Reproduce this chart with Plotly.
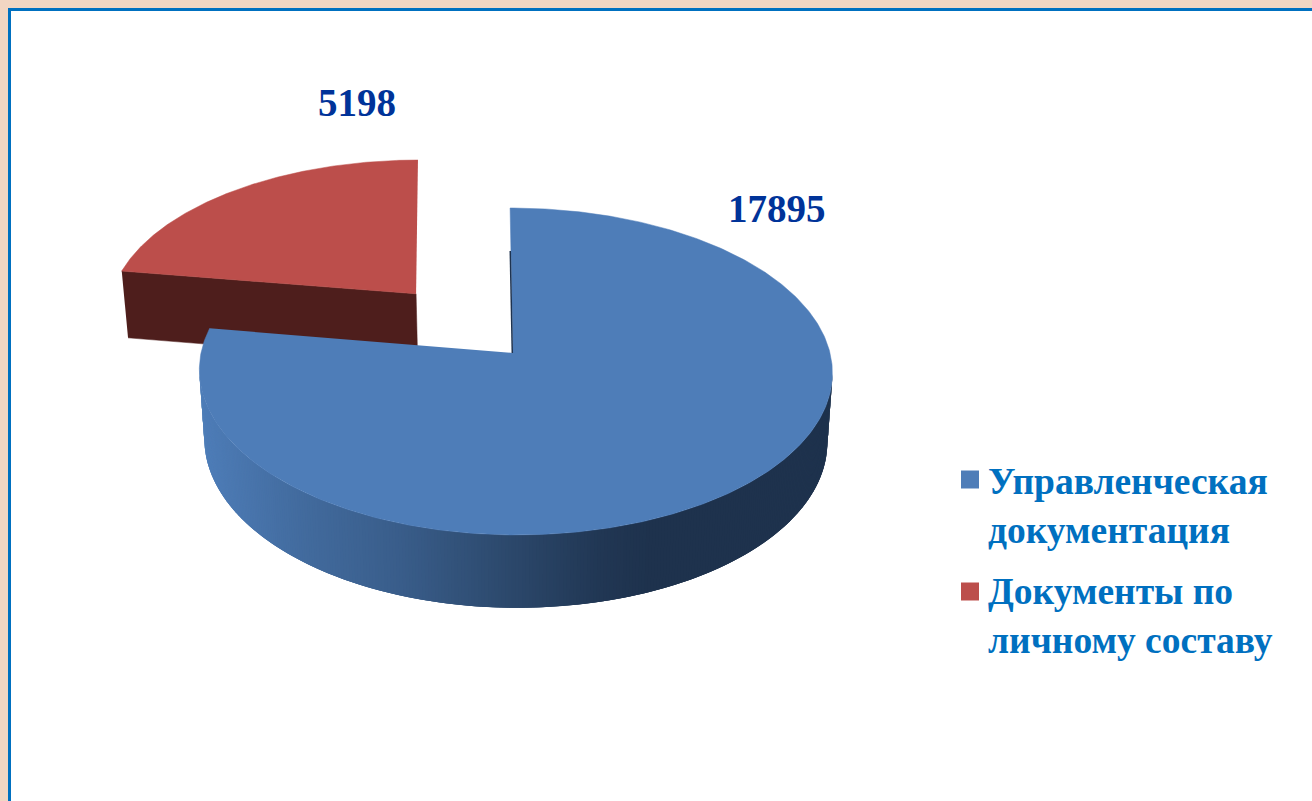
import numpy as np
import plotly.graph_objects as go

categories = ["Управленческая<br>документация", "Документы по<br>личному составу"]
values = [17895, 5198]
value_labels = ["17895", "5198"]
top_colors = ["#4E7DB8", "#BC4E4B"]
side_dark_red = "#4E1E1C"
TEXT_DARK = "#003399"
TEXT_BLUE = "#0070C0"

# projection of the tilted pie
AX, AY, K = 313.0, 161.4, 0.113
OX, OY = 513.0, 353.0
EXPLODE = 0.503
frac = values[0] / sum(values)
end_blue = 2 * np.pi * frac


def project(X, Z):
    X, Z = np.asarray(X, float), np.asarray(Z, float)
    s = 1 / (1 + K * Z)
    a = np.where(X >= 0, AX + 4, AX - 1)
    y = OY - AY * Z * s
    x = OX + a * X * s + 0.02 * (y - OY)
    return x, y, s


def lower(x, y, s):
    return 515 + (x - 515) * 0.984, y + 36 + 32.6 * s


def rim(t0, t1, n=200):
    t = np.linspace(t0, t1, n)
    return np.sin(t), np.cos(t)


fig = go.Figure()


def poly(x, y, color, lw=0.5):
    fig.add_trace(go.Scatter(x=list(x), y=list(y), mode="lines", fill="toself",
                             fillcolor=color, line=dict(color=color, width=lw),
                             hoverinfo="skip", showlegend=False))


# red slice (exploded along its bisector)
bis = end_blue + (2 * np.pi - end_blue) / 2
ex, ez = EXPLODE * np.sin(bis), EXPLODE * np.cos(bis)
ax, ay, asx = project(ex, ez)
ax = ax + 2
X, Z = rim(end_blue, 2 * np.pi)
rx, ry, rs = project(X + ex, Z + ez)
rx = rx - 3
alx, aly = lower(ax, ay, asx)
l0x, l0y = lower(rx[0], ry[0], rs[0])
poly([rx[0], ax, alx, l0x], [ry[0], ay, aly, l0y], side_dark_red)
poly(np.r_[ax, rx], np.r_[ay, ry], top_colors[1], 0.5)

# blue slice: side wall with a shaded ramp, painted from right to left with overlap
stops_x = [200, 300, 400, 500, 600, 650, 830]
stops_c = [(78, 125, 184), (66, 107, 158), (57, 93, 138), (45, 74, 110), (33, 55, 84), (30, 50, 77), (30, 50, 77)]
t_edges = np.radians(np.linspace(97, 264, 300))
X, Z = np.sin(t_edges), np.cos(t_edges)
tx, ty, ts = project(X, Z)
bx, by = lower(tx, ty, ts)
for i in range(len(t_edges) - 1):
    j2 = min(i + 3, len(t_edges) - 1)
    m = (tx[i] + tx[i + 1]) / 2
    c = [int(round(np.interp(m, stops_x, [q[j] for q in stops_c]))) for j in range(3)]
    col = f"rgb({c[0]},{c[1]},{c[2]})"
    poly([tx[i], tx[j2], bx[j2], bx[i]], [ty[i], ty[j2], by[j2], by[i]], col, 0)

# blue top
X, Z = rim(0, end_blue, 400)
px, py, _ = project(X, Z)
poly(np.r_[OX, px], np.r_[OY, py], top_colors[0], 0.5)

# dark sliver on the cut face
sx, sy, _ = project(0, 0.68)
fig.add_trace(go.Scatter(x=[sx - 0.7, OX - 0.7], y=[sy, OY], mode="lines",
                         line=dict(color="#1E3350", width=1.5), hoverinfo="skip", showlegend=False))

# legend swatches
fig.add_trace(go.Scatter(x=[970, 970], y=[479.5, 591.5], mode="markers",
                         marker=dict(symbol="square", size=18, color=top_colors, line=dict(width=0)),
                         hoverinfo="skip", showlegend=False))

annos = [
    dict(x=777, y=208, text=value_labels[0], font=dict(color=TEXT_DARK, size=39)),
    dict(x=357, y=102, text=value_labels[1], font=dict(color=TEXT_DARK, size=39)),
    dict(x=986, y=506, text=categories[0], xanchor="left", align="left", font=dict(color=TEXT_BLUE, size=37.5)),
    dict(x=986, y=616, text=categories[1], xanchor="left", align="left", font=dict(color=TEXT_BLUE, size=37.5)),
]
for a in annos:
    a["font"]["family"] = "Liberation Serif"
    a["text"] = f"<b>{a['text']}</b>"
    fig.add_annotation(xref="x", yref="y", showarrow=False, **a)

fig.update_layout(
    width=1312, height=801, margin=dict(l=0, r=0, t=0, b=0),
    paper_bgcolor="#F2D6C3", plot_bgcolor="rgba(0,0,0,0)",
    xaxis=dict(range=[0, 1312], visible=False, fixedrange=True),
    yaxis=dict(range=[801, 0], visible=False, fixedrange=True),
    shapes=[dict(type="rect", xref="x", yref="y", x0=9.5, y0=9.5, x1=1400, y1=900,
                 fillcolor="white", line=dict(color="#0070C0", width=3), layer="below")],
)
fig.write_html("out.html", config={"displayModeBar": False},
               post_script="document.body.style.margin='0';document.body.style.overflow='hidden';")
